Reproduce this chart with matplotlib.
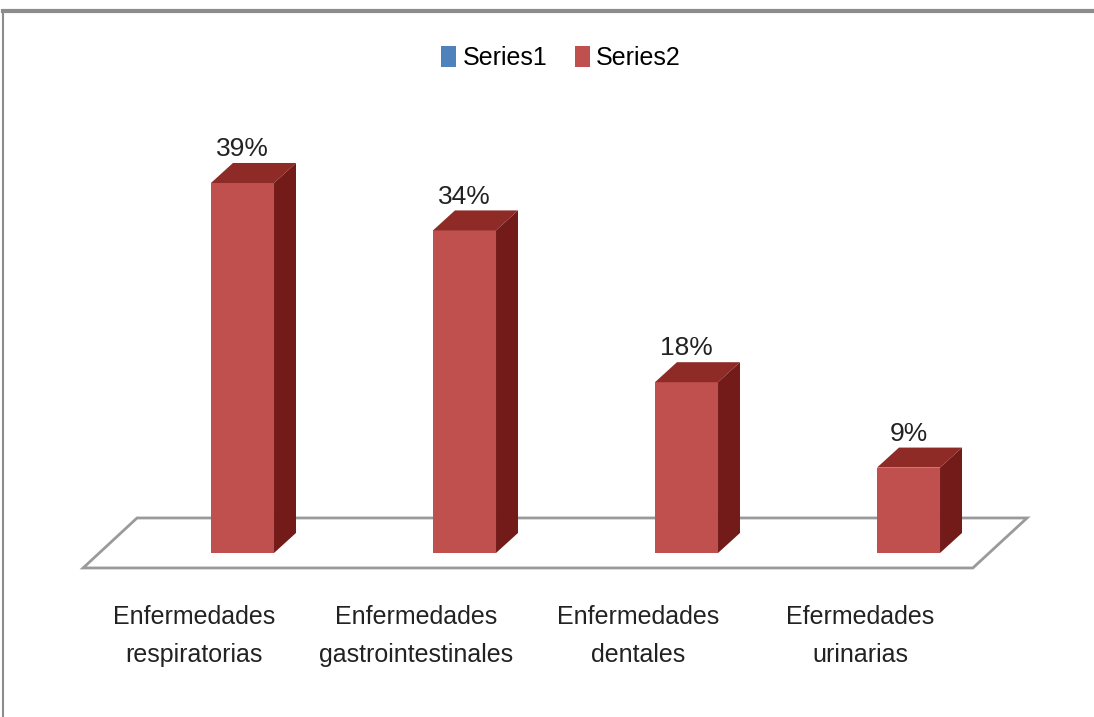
import matplotlib
matplotlib.use("Agg")
import matplotlib.pyplot as plt
from matplotlib.patches import Polygon, Patch
from matplotlib.lines import Line2D

categories = ["Enfermedades\nrespiratorias", "Enfermedades\ngastrointestinales",
              "Enfermedades\ndentales", "Efermedades\nurinarias"]
series2 = [39, 34, 18, 9]
labels = ["39%", "34%", "18%", "9%"]

plt.rcParams['font.family'] = ['Liberation Sans', 'DejaVu Sans']

front_c = "#C0504D"
top_c = "#8E2B27"
side_c = "#731B18"

fig = plt.figure(figsize=(10.94, 7.17), dpi=100)
ax = fig.add_axes([0, 0, 1, 1])
ax.set_xlim(-1.0923, 3.8356)
ax.set_ylim(-17.29, 58.29)
ax.axis("off")

bw = 0.284     # bar width (category units)
ddx = 0.099    # depth offset x
ddy = 2.11     # depth offset y (percent units)

# floor
floor = Polygon([(-0.718, -1.58), (3.29, -1.58), (3.534, 3.69), (-0.475, 3.69)],
                closed=True, facecolor="white", edgecolor="#9A9A9A", lw=2, zorder=1)
ax.add_patch(floor)

for i, v in enumerate(series2):
    x0, x1 = i - bw / 2, i + bw / 2
    ax.add_patch(Polygon([(x0, 0), (x1, 0), (x1, v), (x0, v)], facecolor=front_c,
                         edgecolor="none", zorder=3))
    ax.add_patch(Polygon([(x0, v), (x1, v), (x1 + ddx, v + ddy), (x0 + ddx, v + ddy)],
                         facecolor=top_c, edgecolor="none", zorder=3))
    ax.add_patch(Polygon([(x1, 0), (x1 + ddx, ddy), (x1 + ddx, v + ddy), (x1, v)],
                         facecolor=side_c, edgecolor="none", zorder=3))
    ax.text(i, v + ddy + 0.2, labels[i], ha="center", va="bottom", fontsize=19,
            color="#222222", zorder=4)
    ax.text(i - 0.218, -5.5, categories[i], ha="center", va="top", fontsize=18,
            color="#222222", linespacing=1.75)

handles = [Patch(facecolor="#4F81BD", label="Series1"),
           Patch(facecolor=front_c, label="Series2")]
fig.legend(handles=handles, loc="center", bbox_to_anchor=(561 / 1094, 1 - 58 / 717),
           ncol=2, frameon=False, fontsize=18, handlelength=0.6, handleheight=0.9,
           handletextpad=0.25, columnspacing=1.1)

# chart frame
fig.add_artist(Line2D([3 / 1094, 1.0], [1 - 11 / 717, 1 - 11 / 717], color="#8C8C8C", lw=3))
fig.add_artist(Line2D([3 / 1094, 3 / 1094], [0, 1 - 11 / 717], color="#8C8C8C", lw=1.5))

fig.savefig("out.png", dpi=100)
